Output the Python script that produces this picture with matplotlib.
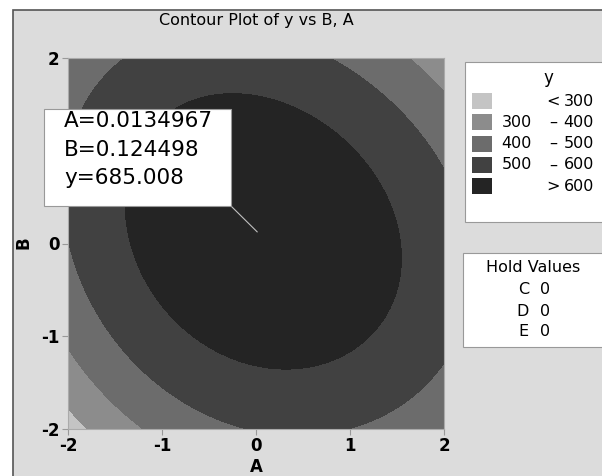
import matplotlib.pyplot as plt
import numpy as np
from matplotlib.patches import Rectangle

# points on each contour boundary (A, B)
c600_A = [-1.33, -1.10, -0.60, 0.106, 0.29, 1.0, 1.355, 1.53, 1.46, 1.106, 0.646, -0.064, -0.38, -0.84, -1.375]
c600_B = [0.145, -0.57, -1.04, -1.33, -1.345, -1.18, -0.825, -0.14, 0.404, 0.943, 1.34, 1.59, 1.58, 1.55, 0.40]
c500_A = [-0.10, 1.03, -1.2, 0.86, 2.0, 2.0, -2.0, -1.70, -1.31, -0.85, 1.106, 1.46, 1.82, 1.46, -1.66, -1.87]
c500_B = [-2.0, -2.0, 2.0, 2.0, 0.84, -1.26, -0.18, -0.75, -1.36, -1.72, 1.77, 1.375, 0.98, -1.795, 1.69, 1.475]
c400_A = [-1.17, -2.0, -1.60, 1.62, 2.0, 1.82]
c400_B = [-2.0, -1.17, -1.54, 2.0, 1.70, 1.84]
c300_A = [-1.81, -2.0]
c300_B = [-2.0, -1.77]

levels = [0, 300, 400, 500, 600, 1000]
shades = ["#c4c4c4", "#8c8c8c", "#6c6c6c", "#414141", "#242424"]

hold_names = ["C", "D", "E"]
hold_values = [0, 0, 0]

cursor_A = 0.0134967
cursor_B = 0.124498
cursor_y = 685.008

W, H = 602, 476


def fx(x):
    return x / W


def fy(y):
    return 1 - y / H


def terms(A, B):
    A = np.asarray(A, float)
    B = np.asarray(B, float)
    return np.stack([np.ones_like(A), A, B, A * A, B * B, A * B,
                     A ** 3, B ** 3, A * A * B, A * B * B], axis=-1)


# smooth surface through the read contour points (inner boundary weighted up)
pts_A = np.concatenate([c600_A, c500_A, c400_A, c300_A, [cursor_A]])
pts_B = np.concatenate([c600_B, c500_B, c400_B, c300_B, [cursor_B]])
pts_y = np.concatenate([[600] * len(c600_A), [500] * len(c500_A), [400] * len(c400_A),
                        [300] * len(c300_A), [cursor_y]])
wts = np.concatenate([[3.0] * len(c600_A), [1.0] * len(c500_A), [1.0] * len(c400_A),
                      [1.0] * len(c300_A), [6.0]])
coef, *_ = np.linalg.lstsq(terms(pts_A, pts_B) * wts[:, None], pts_y * wts, rcond=None)

plt.rcParams["font.family"] = "DejaVu Sans"
plt.rcParams["axes.unicode_minus"] = False
fig = plt.figure(figsize=(W / 100, H / 100), dpi=100, facecolor="white")

# grey page with its frame
fig.patches.append(Rectangle((fx(13), -0.1), 1, fy(10) + 0.1, transform=fig.transFigure,
                             facecolor="#dcdcdc", edgecolor="#555555", lw=1.2, zorder=-2))

ax = fig.add_axes([fx(68), fy(429), (444 - 68) / W, (429 - 58) / H])
a = np.linspace(-2, 2, 301)
AA, BB = np.meshgrid(a, a)
Y = terms(AA, BB) @ coef
ax.contourf(AA, BB, Y, levels=levels, colors=shades)

ax.set_xlim(-2, 2)
ax.set_ylim(-2, 2)
ax.set_xticks([-2, -1, 0, 1, 2])
ax.set_yticks([-2, -1, 0, 1, 2])
ax.tick_params(direction="out", length=4, width=0.8, color="#999999", labelsize=12, pad=2)
for lab in ax.get_xticklabels() + ax.get_yticklabels():
    lab.set_fontweight("bold")
for sp in ax.spines.values():
    sp.set_color("#aaaaaa")
    sp.set_linewidth(0.8)

fig.text(fx(256), fy(21), "Contour Plot of y vs B, A", ha="center", va="center", fontsize=11.5)
fig.text(fx(256), fy(467), "A", ha="center", va="center", fontsize=12, fontweight="bold")
fig.text(fx(23), fy(243), "B", ha="center", va="center", fontsize=12, fontweight="bold", rotation=90)

# crosshair readout
ax.annotate("", xy=(cursor_A, cursor_B), xytext=(fx(231), fy(206)), textcoords="figure fraction",
            arrowprops=dict(arrowstyle="-", color="#c0c0c0", lw=0.8, shrinkA=0, shrinkB=0))
fig.patches.append(Rectangle((fx(44), fy(206)), (231 - 44) / W, (206 - 109) / H, transform=fig.transFigure,
                             facecolor="white", edgecolor="#999999", lw=0.8, zorder=5))
readout = [f"A={cursor_A:g}", f"B={cursor_B:g}", f"y={cursor_y:g}"]
for i, line in enumerate(readout):
    fig.text(fx(64), fy(121 + 28.5 * i), line, ha="left", va="center", fontsize=15.5, zorder=6)

# legend panel
fig.patches.append(Rectangle((fx(465), fy(222)), 1, (222 - 62) / H, transform=fig.transFigure,
                             facecolor="white", edgecolor="#999999", lw=0.8, zorder=1))
fig.text(fx(548), fy(78), "y", ha="center", va="center", fontsize=12)
n = len(shades)
for i in range(n):
    yc = 101 + 21.3 * i
    fig.patches.append(Rectangle((fx(472), fy(yc + 8)), 20 / W, 16 / H, transform=fig.transFigure,
                                 facecolor=shades[i], edgecolor="none", zorder=2))
    if i == 0:
        left, mid, right = "", "<", str(levels[1])
    elif i == n - 1:
        left, mid, right = "", ">", str(levels[n - 1])
    else:
        left, mid, right = str(levels[i]), "–", str(levels[i + 1])
    fig.text(fx(532), fy(yc), left, ha="right", va="center", fontsize=11.5, zorder=3)
    fig.text(fx(553), fy(yc), mid, ha="center", va="center", fontsize=11.5, zorder=3)
    fig.text(fx(594), fy(yc), right, ha="right", va="center", fontsize=11.5, zorder=3)

# hold values panel
fig.patches.append(Rectangle((fx(463), fy(347)), 1, (347 - 253) / H, transform=fig.transFigure,
                             facecolor="white", edgecolor="#999999", lw=0.8, zorder=1))
fig.text(fx(533), fy(268), "Hold Values", ha="center", va="center", fontsize=11.5, zorder=3)
for i, (nm, val) in enumerate(zip(hold_names, hold_values)):
    fig.text(fx(529), fy(290 + 21 * i), nm, ha="right", va="center", fontsize=11.5, zorder=3)
    fig.text(fx(540), fy(290 + 21 * i), str(val), ha="left", va="center", fontsize=11.5, zorder=3)

fig.savefig("out.png", dpi=100, facecolor="white")
